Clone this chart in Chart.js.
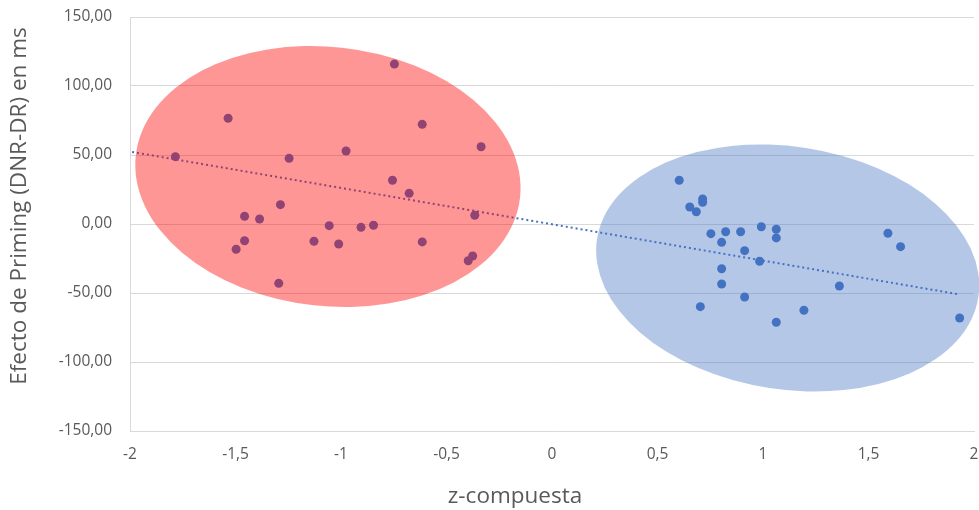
<!DOCTYPE html>
<html>
<head>
<meta charset="utf-8">
<script src="https://cdn.jsdelivr.net/npm/chart.js@4"></script>
<style>
    body { margin: 0; background: #fff; }
    #wrap { width: 979px; height: 510px; position: relative; }
</style>
</head>
<body>
<div id="wrap"><canvas id="primingChart"></canvas></div>
<script>
// z-compuesta vs. efecto de priming (DNR-DR), one point per participant
const zScores = [
    -1.785, -1.535, -1.246, -1.287, -1.457, -1.386, -1.056, -1.457, -1.497, -1.128, -1.011, -1.295,
    -0.747, -0.615, -0.976, -0.336, -0.756, -0.677, -0.366, -0.905, -0.846, -0.615, -0.376, -0.397,
    0.603, 0.714, 0.714, 0.653, 0.684, 0.753, 0.823, 0.894, 0.992, 1.063, 1.063, 0.804,
    0.913, 0.984, 0.804, 0.804, 0.913, 0.703, 1.063, 1.194, 1.362, 1.592, 1.652, 1.932
];
const primingMs = [
    48.8, 76.6, 47.6, 14.0, 5.6, 3.6, -1.2, -12.1, -18.3, -12.5, -14.5, -43.0,
    115.9, 72.2, 52.9, 56.0, 31.7, 22.2, 6.3, -2.4, -0.9, -13.0, -23.2, -26.6,
    31.7, 18.1, 15.7, 12.3, 8.9, -7.0, -5.6, -5.6, -2.0, -3.8, -10.1, -13.3,
    -19.3, -27.0, -32.4, -43.5, -52.9, -59.9, -71.2, -62.5, -44.9, -6.7, -16.4, -68.1
];

// linear trend (end points)
const trendX = [-1.99, 1.93];
const trendY = [52.2, -51.0];

const xTicks = [-2, -1.5, -1, -0.5, 0, 0.5, 1, 1.5, 2];
const yTicks = [-150, -100, -50, 0, 50, 100, 150];

const xTitle = 'z-compuesta';
const yTitle = 'Efecto de Priming (DNR-DR) en ms';

// group ellipses: centre and semi-axes in data units, tilt in degrees
const groups = [
    { cx: -1.062, cy: 34.4, rx: 0.916, ry: 93.9, tilt: 6.25, fill: 'rgba(255, 0, 0, 0.41)' },
    { cx: 1.117, cy: -31.9, rx: 0.914, ry: 88.0, tilt: 8.65, fill: 'rgba(68, 114, 196, 0.4)' }
];

const BLUE = '#4472C4';
const GREY_TEXT = '#595959';
const GRID = '#D9D9D9';
const FONT = 'Open Sans';

const ellipsePlugin = {
    id: 'groupEllipses',
    afterDatasetsDraw(chart) {
        const { ctx, scales: { x, y } } = chart;
        const pxX = Math.abs(x.getPixelForValue(1) - x.getPixelForValue(0));
        const pxY = Math.abs(y.getPixelForValue(1) - y.getPixelForValue(0));
        ctx.save();
        groups.forEach(g => {
            ctx.beginPath();
            ctx.ellipse(x.getPixelForValue(g.cx), y.getPixelForValue(g.cy),
                g.rx * pxX, g.ry * pxY, g.tilt * Math.PI / 180, 0, Math.PI * 2);
            ctx.fillStyle = g.fill;
            ctx.fill();
        });
        ctx.restore();
    }
};

// axis titles sit a little off the plot centre, so they are drawn by hand
const axisTitlePlugin = {
    id: 'axisTitles',
    afterDraw(chart) {
        const { ctx, chartArea } = chart;
        ctx.save();
        ctx.fillStyle = GREY_TEXT;
        ctx.font = `22.5px "${FONT}"`;
        ctx.textAlign = 'center';
        ctx.textBaseline = 'middle';
        ctx.fillText(xTitle, chartArea.left + 385, chart.height - 13);
        ctx.translate(20, chartArea.top + 189);
        ctx.rotate(-Math.PI / 2);
        ctx.fillText(yTitle, 0, 0);
        ctx.restore();
    }
};

const comma = (v, digits) => (digits == null ? String(v) : v.toFixed(digits)).replace('.', ',');

new Chart(document.getElementById('primingChart'), {
    type: 'scatter',
    data: {
        datasets: [
            {
                label: 'Priming',
                data: zScores.map((z, i) => ({ x: z, y: primingMs[i] })),
                backgroundColor: BLUE,
                borderWidth: 0,
                pointRadius: 4.5,
                order: 2
            },
            {
                label: 'Tendencia',
                type: 'line',
                data: trendX.map((t, i) => ({ x: t, y: trendY[i] })),
                borderColor: BLUE,
                borderWidth: 2,
                borderDash: [2, 3],
                pointRadius: 0,
                fill: false,
                order: 1
            }
        ]
    },
    options: {
        responsive: true,
        maintainAspectRatio: false,
        animation: false,
        layout: { padding: { top: 17, right: 5, bottom: 0, left: 0 } },
        plugins: {
            legend: { display: false },
            tooltip: { enabled: false }
        },
        scales: {
            x: {
                type: 'linear',
                min: -2,
                max: 2,
                afterBuildTicks: s => { s.ticks = xTicks.map(v => ({ value: v })); },
                afterFit: s => { s.height = 79; s.paddingLeft = 0; s.paddingRight = 0; },
                grid: { display: false, drawTicks: false },
                border: { display: true, color: GRID, width: 1 },
                ticks: {
                    padding: 14,
                    color: GREY_TEXT,
                    font: { family: FONT, size: 15.5 },
                    callback: v => comma(v)
                }
            },
            y: {
                min: -150,
                max: 150,
                afterBuildTicks: s => { s.ticks = yTicks.map(v => ({ value: v })); },
                afterFit: s => { s.width = 130; s.paddingTop = 0; s.paddingBottom = 0; },
                grid: { color: GRID, lineWidth: 1, drawTicks: false },
                border: { display: true, color: GRID, width: 1 },
                ticks: {
                    padding: 18,
                    color: GREY_TEXT,
                    font: { family: FONT, size: 15.5 },
                    callback: v => comma(v, 2)
                }
            }
        }
    },
    plugins: [ellipsePlugin, axisTitlePlugin]
});
</script>
</body>
</html>
